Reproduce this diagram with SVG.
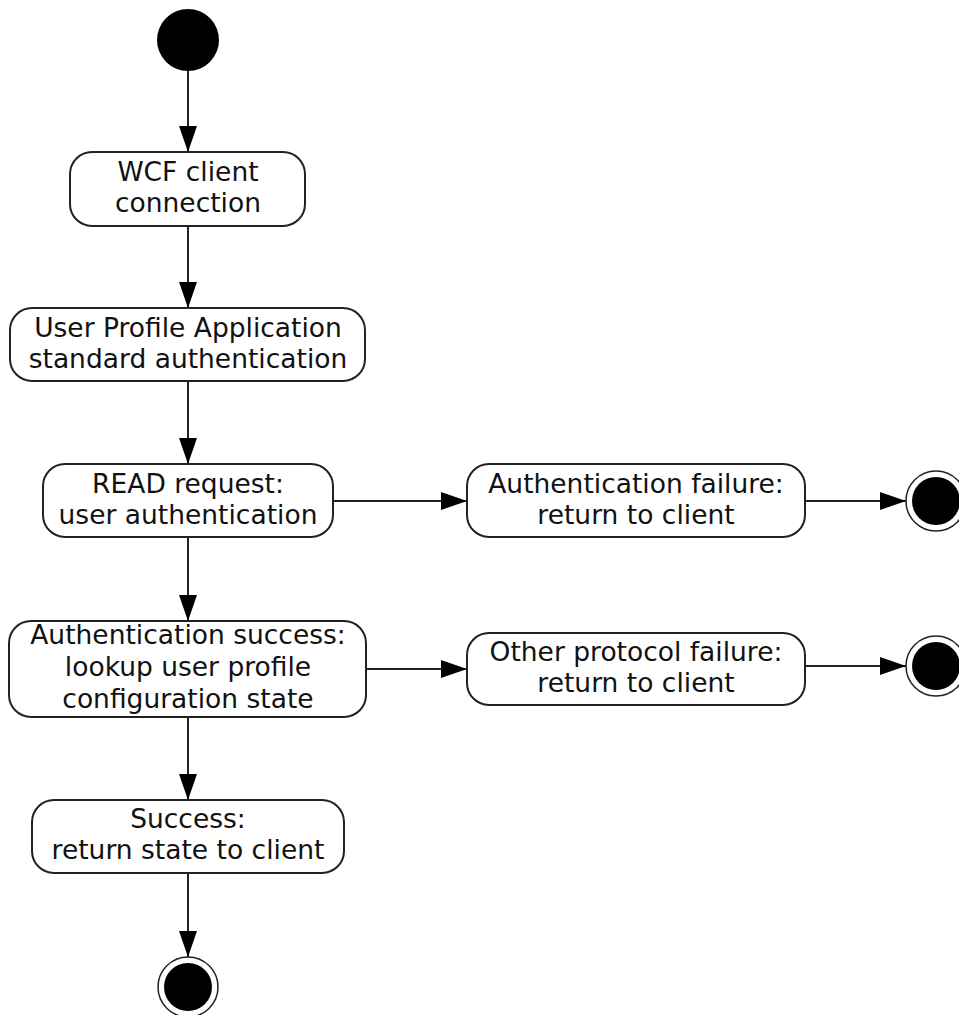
<svg xmlns="http://www.w3.org/2000/svg" width="959" height="1015" viewBox="0 0 959 1015">
<defs>
<style>
.box{fill:#fff;stroke:#222;stroke-width:2}
.t{font-family:"DejaVu Sans",Verdana,sans-serif;font-size:26.5px;fill:#111;text-anchor:middle}
.c{stroke:#222;stroke-width:2;fill:none}
.endo{fill:#fff;stroke:#222;stroke-width:1.5}
</style>
<marker id="ah" markerWidth="26" markerHeight="18" refX="26" refY="9" orient="auto" markerUnits="userSpaceOnUse">
<path d="M0,0 L26,9 L0,18 Z" fill="#000"/>
</marker>
</defs>
<rect width="959" height="1015" fill="#fff"/>
<g id="connectors">
<line class="c" x1="188" y1="70" x2="188" y2="152" marker-end="url(#ah)"/>
<line class="c" x1="188" y1="226" x2="188" y2="308" marker-end="url(#ah)"/>
<line class="c" x1="188" y1="381" x2="188" y2="464" marker-end="url(#ah)"/>
<line class="c" x1="188" y1="537" x2="188" y2="621" marker-end="url(#ah)"/>
<line class="c" x1="188" y1="717" x2="188" y2="800" marker-end="url(#ah)"/>
<line class="c" x1="188" y1="873" x2="188" y2="957" marker-end="url(#ah)"/>
<line class="c" x1="333" y1="501" x2="467" y2="501" marker-end="url(#ah)"/>
<line class="c" x1="366" y1="669" x2="467" y2="669" marker-end="url(#ah)"/>
<line class="c" x1="805" y1="501" x2="906" y2="501" marker-end="url(#ah)"/>
<line class="c" x1="805" y1="666" x2="906" y2="666" marker-end="url(#ah)"/>
</g>
<g id="start"><circle cx="188" cy="40" r="31" fill="#000"/></g>
<g id="wcf">
<rect class="box" x="70" y="152" width="235" height="74" rx="22"/>
<text class="t" x="188" y="181">WCF client</text>
<text class="t" x="188" y="212">connection</text>
</g>
<g id="upa">
<rect class="box" x="10" y="308" width="355" height="73" rx="22"/>
<text class="t" x="188" y="337">User Profile Application</text>
<text class="t" x="188" y="368">standard authentication</text>
</g>
<g id="read">
<rect class="box" x="43" y="464" width="290" height="73" rx="22"/>
<text class="t" x="188" y="493">READ request:</text>
<text class="t" x="188" y="524">user authentication</text>
</g>
<g id="authfail">
<rect class="box" x="467" y="464" width="338" height="73" rx="22"/>
<text class="t" x="636" y="493">Authentication failure:</text>
<text class="t" x="636" y="524">return to client</text>
</g>
<g id="end1">
<circle class="endo" cx="936" cy="501" r="30"/>
<circle cx="936" cy="501" r="24" fill="#000"/>
</g>
<g id="authsuccess">
<rect class="box" x="9" y="621" width="357" height="96" rx="22"/>
<text class="t" x="188" y="644">Authentication success:</text>
<text class="t" x="188" y="676">lookup user profile</text>
<text class="t" x="188" y="708">configuration state</text>
</g>
<g id="otherfail">
<rect class="box" x="467" y="633" width="338" height="72" rx="22"/>
<text class="t" x="636" y="661">Other protocol failure:</text>
<text class="t" x="636" y="692">return to client</text>
</g>
<g id="end2">
<circle class="endo" cx="936" cy="666" r="30"/>
<circle cx="936" cy="666" r="24" fill="#000"/>
</g>
<g id="success">
<rect class="box" x="32" y="800" width="312" height="73" rx="22"/>
<text class="t" x="188" y="828">Success:</text>
<text class="t" x="188" y="859">return state to client</text>
</g>
<g id="end3">
<circle class="endo" cx="188" cy="987" r="30"/>
<circle cx="188" cy="987" r="24" fill="#000"/>
</g>
</svg>
